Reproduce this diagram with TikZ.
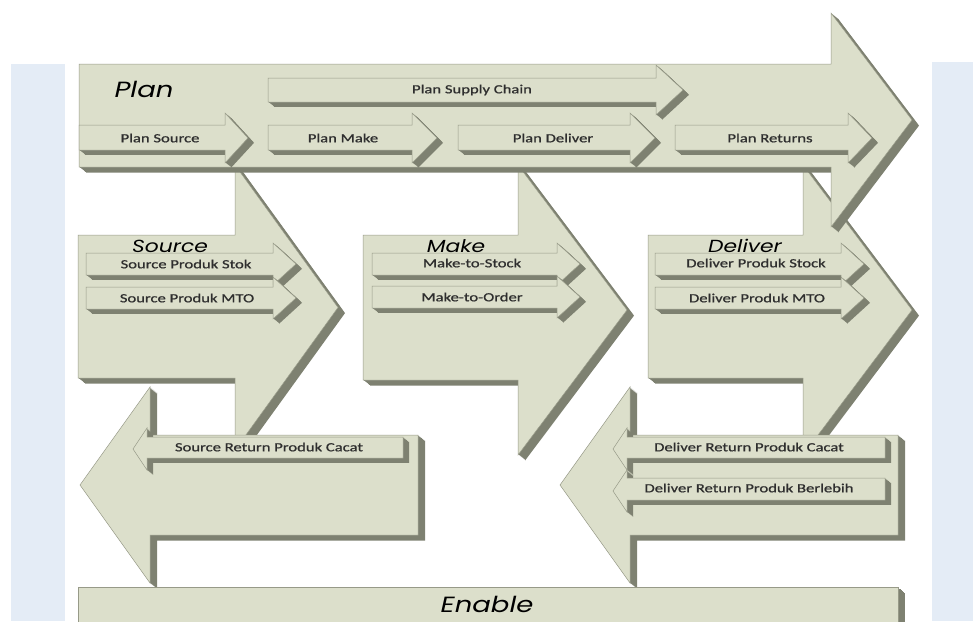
\documentclass[tikz,border=0pt]{standalone}
\usepackage{fontspec}
\setmainfont{Carlito}
\newfontfamily\labfont{Carlito}[FakeBold=0.7]
\newfontfamily\titlefont{Poppins}
\usepackage{graphicx}
\definecolor{fillc}{HTML}{DCDFCB}
\definecolor{shadc}{HTML}{7E8171}
\definecolor{edgec}{HTML}{979A88}
\definecolor{panelc}{HTML}{E4ECF6}
\definecolor{txtc}{HTML}{2E2E2E}
% right arrow: [depth]{x0}{x1}{xtip}{top}{bottom}{headtop}{headbottom}
\newcommand\rarrow[8][7]{%
  \foreach \k in {1,...,#1}{\fill[shadc, shift={(\k,{0.8*\k})}] (#2,#5) -- (#3,#5) -- (#3,#7) -- (#4,{(#7+#8)/2}) -- (#3,#8) -- (#3,#6) -- (#2,#6) -- cycle;}
  \filldraw[fill=fillc, draw=edgec, line width=0.5pt] (#2,#5) -- (#3,#5) -- (#3,#7) -- (#4,{(#7+#8)/2}) -- (#3,#8) -- (#3,#6) -- (#2,#6) -- cycle;}
% left arrow: [depth]{xtip}{xhead}{x1}{top}{bottom}{headtop}{headbottom}
\newcommand\larrow[8][7]{%
  \foreach \k in {1,...,#1}{\fill[shadc, shift={(\k,{0.8*\k})}] (#4,#5) -- (#3,#5) -- (#3,#7) -- (#2,{(#7+#8)/2}) -- (#3,#8) -- (#3,#6) -- (#4,#6) -- cycle;}
  \filldraw[fill=fillc, draw=edgec, line width=0.5pt] (#4,#5) -- (#3,#5) -- (#3,#7) -- (#2,{(#7+#8)/2}) -- (#3,#8) -- (#3,#6) -- (#4,#6) -- cycle;}
\newcommand\sx[1]{\scalebox{1.33}[1]{#1}}
\newcommand\tx[1]{\scalebox{1.25}[1]{#1}}
\tikzset{
  lab/.style={text=txtc, font=\labfont\fontsize{12.5}{14}\selectfont, inner sep=0pt},
  ttl/.style={text=black, font=\titlefont\itshape\fontsize{17.5}{20}\selectfont, inner sep=0pt, anchor=base},
  bigttl/.style={ttl, font=\titlefont\itshape\fontsize{22}{24}\selectfont}
}
\begin{document}
\begin{tikzpicture}[x=1pt,y=-1pt]
\useasboundingbox (0,0) rectangle (973,621);
% side panels
\fill[panelc] (11,64) rectangle (65,621);
\fill[panelc] (932,62) rectangle (973,621);
% Source / Make / Deliver big arrows
\rarrow{78}{235}{338}{235}{378}{165}{450}
\rarrow{363}{518}{627}{235}{380}{165}{455}
\rarrow{648}{803}{912}{235}{378}{165}{455}
% Plan big arrow
\rarrow{79}{831}{912}{64}{167}{13}{227}
% Return arrows
\larrow{80}{150}{418}{435}{535}{387}{583}
\larrow{560}{630}{898}{435}{535}{387}{583}
% Plan sub arrows
\rarrow[6]{268}{656}{683}{78}{102}{65}{115}
\rarrow[6]{79}{225}{248}{125}{150}{113}{163}
\rarrow[6]{268}{412}{437}{125}{150}{113}{163}
\rarrow[6]{458}{630}{655}{125}{150}{113}{163}
\rarrow[6]{675}{848}{872}{125}{150}{113}{163}
% Source sub arrows
\rarrow[6]{86}{273}{296}{253}{275}{243}{285}
\rarrow[6]{86}{273}{296}{287}{309}{277}{319}
% Make sub arrows
\rarrow[6]{372}{557}{580}{253}{275}{243}{285}
\rarrow[6]{372}{557}{580}{286}{308}{276}{318}
% Deliver sub arrows
\rarrow[6]{655}{841}{864}{253}{275}{243}{285}
\rarrow[6]{655}{841}{864}{287}{309}{277}{319}
% Return sub arrows
\larrow[6]{133}{147}{403}{437}{458}{428}{470}
\larrow[6]{613}{627}{885}{437}{458}{428}{470}
\larrow[6]{613}{627}{885}{478}{500}{470}{512}
% Enable bar
\foreach \k in {1,...,7}{\fill[shadc, shift={(\k,{0.8*\k})}] (78,587) rectangle (898,630);}
\filldraw[fill=fillc, draw=edgec, line width=0.5pt] (78,587) rectangle (898,630);
% titles
\node[bigttl] (tPlan) at (144,97) {\tx{Plan}};
\node[ttl] (tSource) at (170,252) {\tx{Source}};
\node[ttl] (tMake) at (456,252) {\tx{Make}};
\node[ttl] (tDeliver) at (745,252) {\tx{Deliver}};
\node[bigttl] (tEnable) at (487,612) {\tx{Enable}};
% labels
\node[lab] (lPSC) at (472,90) {\sx{Plan Supply Chain}};
\node[lab] (lPS) at (160,138) {\sx{Plan Source}};
\node[lab] (lPM) at (343,138) {\sx{Plan Make}};
\node[lab] (lPD) at (553,138) {\sx{Plan Deliver}};
\node[lab] (lPR) at (770,138) {\sx{Plan Returns}};
\node[lab] (lSPS) at (186,264) {\sx{Source Produk Stok}};
\node[lab] (lSPM) at (187,298) {\sx{Source Produk MTO}};
\node[lab] (lMTS) at (472,263) {\sx{Make-to-Stock}};
\node[lab] (lMTO) at (472,297) {\sx{Make-to-Order}};
\node[lab] (lDPS) at (756,263) {\sx{Deliver Produk Stock}};
\node[lab] (lDPM) at (757,298) {\sx{Deliver Produk MTO}};
\node[lab] (lSRC) at (269,447) {\sx{Source Return Produk Cacat}};
\node[lab] (lDRC) at (749,447) {\sx{Deliver Return Produk Cacat}};
\node[lab] (lDRB) at (749,488) {\sx{Deliver Return Produk Berlebih}};
\end{tikzpicture}
\end{document}
